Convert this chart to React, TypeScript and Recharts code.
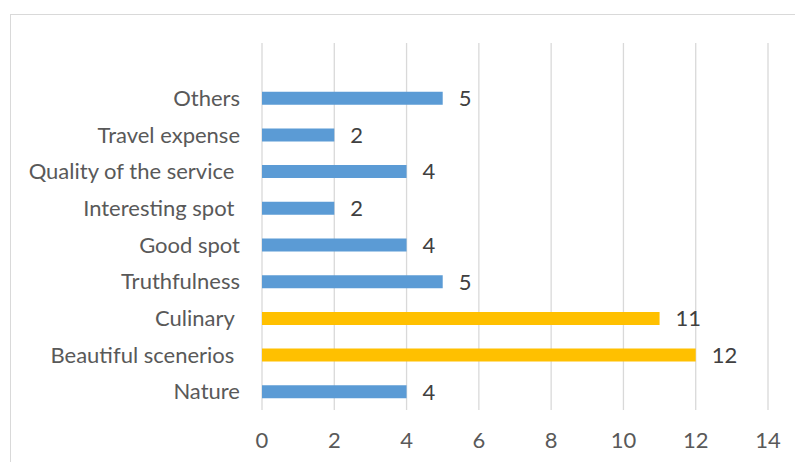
import React from 'react';
import {
  BarChart,
  Bar,
  XAxis,
  YAxis,
  CartesianGrid,
  Cell,
  LabelList,
} from 'recharts';

// Reasons, top to bottom as drawn
const categories = [
  'Others',
  'Travel expense',
  'Quality of the service\u00a0',
  'Interesting spot\u00a0',
  'Good spot',
  'Truthfulness',
  'Culinary\u00a0',
  'Beautiful scenerios\u00a0',
  'Nature',
];
const counts = [5, 2, 4, 2, 4, 5, 11, 12, 4];
const highlighted = ['Culinary\u00a0', 'Beautiful scenerios\u00a0'];
const xTicks = [0, 2, 4, 6, 8, 10, 12, 14];

const BLUE = '#5B9BD5';
const GOLD = '#FFC000';
const FONT = 'Lato, "Liberation Sans", sans-serif';

const data = categories.map((name, i) => ({ name, value: counts[i] }));

export default function App() {
  return (
    <div
      style={{
        position: 'absolute',
        left: 0,
        top: 0,
        width: 795,
        height: 462,
        overflow: 'hidden',
        background: '#fff',
        fontFamily: FONT,
      }}
    >
      {/* chart frame, runs off the right and bottom edge */}
      <div
        style={{
          position: 'absolute',
          left: 10,
          top: 14,
          width: 800,
          height: 470,
          border: '1px solid #d9d9d9',
          boxSizing: 'border-box',
        }}
      />
      <div style={{ position: 'absolute', left: 0, top: 0 }}>
        <BarChart
          width={795}
          height={462}
          data={data}
          layout="vertical"
          margin={{ top: 43, right: 27, bottom: 0, left: 0 }}
          barSize={13}
        >
          <CartesianGrid horizontal={false} stroke="#d9d9d9" strokeWidth={1.3} />
          <XAxis
            type="number"
            domain={[0, 14]}
            ticks={xTicks}
            axisLine={false}
            tickLine={false}
            tickSize={0}
            tickMargin={22}
            height={52}
            tick={{ fill: '#595959', fontSize: 22, fontFamily: FONT }}
          />
          <YAxis
            type="category"
            dataKey="name"
            width={262}
            axisLine={false}
            tickLine={false}
            tickSize={0}
            tickMargin={22}
            padding={{ top: 36.7, bottom: 0 }}
            interval={0}
            tick={{ fill: '#595959', fontSize: 22, fontFamily: FONT }}
          />
          <Bar dataKey="value" isAnimationActive={false}>
            {data.map((d) => (
              <Cell key={d.name} fill={highlighted.includes(d.name) ? GOLD : BLUE} />
            ))}
            <LabelList
              dataKey="value"
              position="right"
              offset={16}
              style={{ fill: '#404040', fontSize: 22, fontFamily: FONT }}
            />
          </Bar>
        </BarChart>
      </div>
    </div>
  );
}
